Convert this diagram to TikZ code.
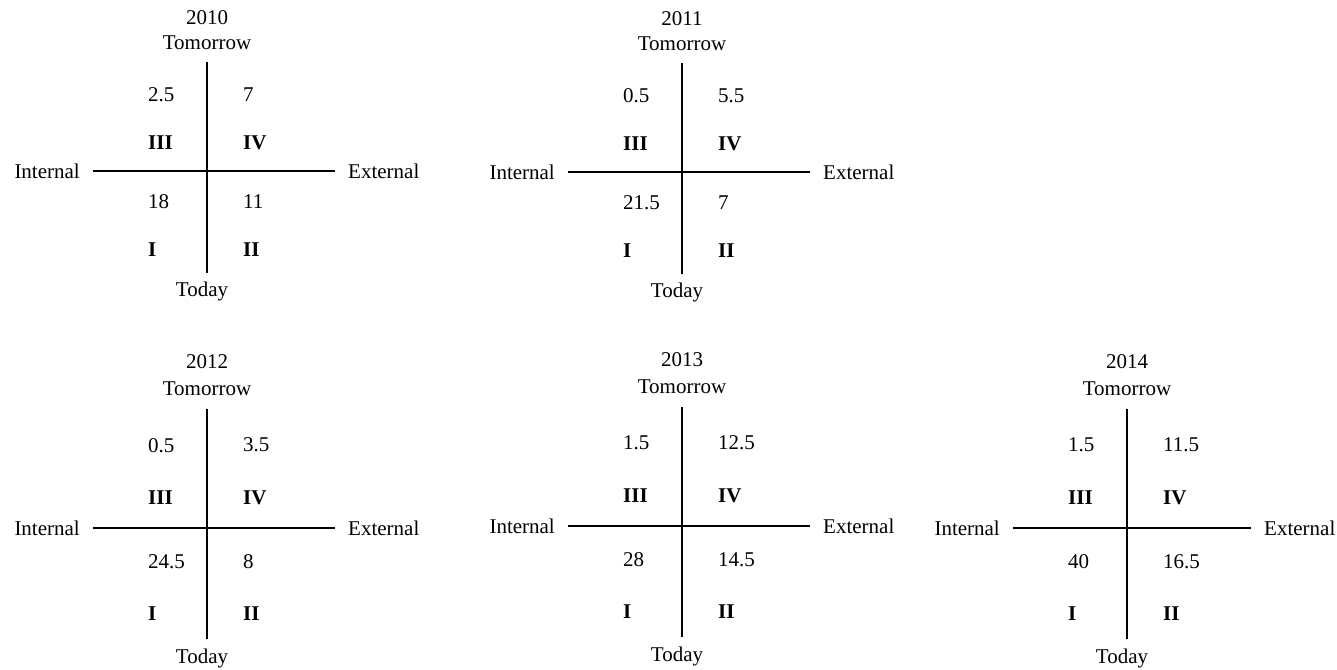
\documentclass[tikz,border=0pt]{standalone}
\usepackage{fontspec}
\setmainfont{Liberation Serif}
\newfontfamily\chartfont{Liberation Serif}
\tikzset{
  lbl/.style={inner sep=0pt, font=\chartfont\fontsize{21}{24}\selectfont},
  val/.style={lbl, anchor=west},
  axis/.style={line width=1.6pt},
}
\newcommand{\rightarm}{128}
% one chart: name, x, y, stretch, year, III value, IV value, I value, II value
\newcommand{\quadchart}[9]{%
  \begin{scope}[shift={(#2,#3)}, yscale=#4]
    \node[lbl] (#1-year) at (0,-153) {#5};
    \node[lbl] (#1-tom) at (0,-128) {Tomorrow};
    \node[lbl] (#1-today) at (-5,120) {Today};
    \node[lbl, anchor=east] (#1-int) at (-127,0) {Internal};
    \node[lbl, anchor=west] (#1-ext) at (\rightarm+13,0) {External};
    \coordinate (#1-top) at (0,-109);
    \coordinate (#1-bot) at (0,102);
    \coordinate (#1-left) at (-114,0);
    \coordinate (#1-right) at (\rightarm,0);
    \draw[axis] (#1-top) -- (#1-bot);
    \draw[axis] (#1-left) -- (#1-right);
    \node[val] (#1-v3) at (-59,-76) {#6};
    \node[val] (#1-v4) at (36,-76) {#7};
    \node[val] (#1-v1) at (-59,31) {#8};
    \node[val] (#1-v2) at (36,31) {#9};
    \node[val] (#1-q3) at (-59,-28) {\textbf{III}};
    \node[val] (#1-q4) at (36,-28) {\textbf{IV}};
    \node[val] (#1-q1) at (-59,79) {\textbf{I}};
    \node[val] (#1-q2) at (36,79) {\textbf{II}};
  \end{scope}}
\begin{document}
\begin{tikzpicture}[x=1pt, y=-1pt]
  \useasboundingbox (0,0) rectangle (1337,669);
  \quadchart{a}{207}{171}{1}{2010}{2.5}{7}{18}{11}
  \quadchart{b}{682}{172}{1}{2011}{0.5}{5.5}{21.5}{7}
  \quadchart{c}{207}{528}{1.09}{2012}{0.5}{3.5}{24.5}{8}
  \quadchart{d}{682}{526}{1.09}{2013}{1.5}{12.5}{28}{14.5}
  \renewcommand{\rightarm}{124}
  \quadchart{e}{1127}{528}{1.09}{2014}{1.5}{11.5}{40}{16.5}
\end{tikzpicture}
\end{document}
